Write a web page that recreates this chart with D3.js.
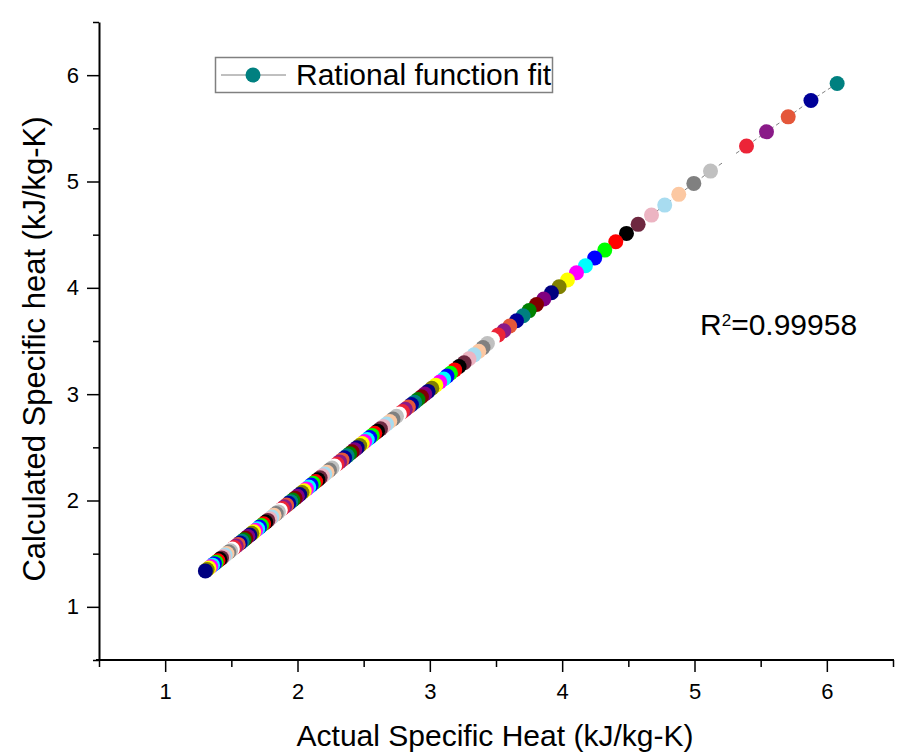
<!DOCTYPE html>
<html>
<head>
<meta charset="utf-8">
<script src="https://cdn.jsdelivr.net/npm/d3@7"></script>
<style>
  html, body { margin: 0; padding: 0; background: #ffffff; }
  svg { display: block; }
  text { font-family: "Liberation Sans", Arial, Helvetica, sans-serif; fill: #000; }
</style>
</head>
<body>
<svg id="chart" width="902" height="755"></svg>
<script>
// ---- Data, index 0 = highest point ----
const actualHeat = [
  6.078, 5.880, 5.708, 5.544, 5.393, 5.257, 5.121, 4.995, 4.881, 4.775,
  4.675, 4.574, 4.486, 4.405, 4.322, 4.246, 4.176, 4.108, 4.040, 3.977,
  3.919, 3.861, 3.806, 3.750, 3.705, 3.655, 3.604, 3.559, 3.516, 3.473,
  3.435, 3.402, 3.370, 3.334, 3.296, 3.259, 3.221, 3.188, 3.156, 3.130,
  3.105, 3.075, 3.045, 3.015, 2.987, 2.962, 2.937, 2.910, 2.885, 2.861,
  2.838, 2.815, 2.793, 2.770, 2.748, 2.722, 2.697, 2.673, 2.650, 2.627,
  2.605, 2.584, 2.565, 2.546, 2.527, 2.508, 2.489, 2.470, 2.451, 2.432,
  2.413, 2.394, 2.375, 2.356, 2.337, 2.318, 2.299, 2.280, 2.261, 2.242,
  2.223, 2.206, 2.189, 2.171, 2.154, 2.137, 2.120, 2.103, 2.085, 2.068,
  2.051, 2.034, 2.017, 1.999, 1.982, 1.965, 1.949, 1.934, 1.918, 1.902,
  1.886, 1.870, 1.855, 1.839, 1.823, 1.807, 1.791, 1.776, 1.760, 1.744,
  1.728, 1.713, 1.699, 1.684, 1.669, 1.655, 1.640, 1.625, 1.610, 1.596,
  1.581, 1.566, 1.552, 1.537, 1.522, 1.508, 1.494, 1.481, 1.467, 1.453,
  1.440, 1.426, 1.413, 1.399, 1.385, 1.372, 1.358, 1.345, 1.331, 1.317,
  1.304
];
const calculatedHeat = [
  5.922, 5.762, 5.608, 5.467, 5.333, 5.215, 5.098, 4.982, 4.879, 4.778,
  4.684, 4.597, 4.512, 4.433, 4.355, 4.281, 4.208, 4.142, 4.073, 4.010,
  3.954, 3.895, 3.843, 3.786, 3.738, 3.690, 3.641, 3.597, 3.556, 3.514,
  3.476, 3.438, 3.404, 3.370, 3.333, 3.296, 3.260, 3.228, 3.197, 3.170,
  3.143, 3.114, 3.085, 3.055, 3.026, 3.001, 2.976, 2.950, 2.925, 2.902,
  2.879, 2.857, 2.836, 2.813, 2.792, 2.767, 2.743, 2.719, 2.697, 2.674,
  2.652, 2.632, 2.612, 2.593, 2.574, 2.555, 2.536, 2.517, 2.497, 2.478,
  2.459, 2.440, 2.420, 2.401, 2.382, 2.363, 2.343, 2.324, 2.305, 2.286,
  2.266, 2.249, 2.232, 2.214, 2.196, 2.179, 2.162, 2.145, 2.126, 2.109,
  2.092, 2.075, 2.057, 2.039, 2.022, 2.005, 1.989, 1.973, 1.957, 1.941,
  1.925, 1.909, 1.893, 1.877, 1.861, 1.845, 1.829, 1.813, 1.797, 1.781,
  1.765, 1.750, 1.735, 1.720, 1.705, 1.691, 1.676, 1.661, 1.645, 1.631,
  1.616, 1.601, 1.587, 1.572, 1.557, 1.543, 1.528, 1.515, 1.501, 1.487,
  1.474, 1.460, 1.447, 1.433, 1.419, 1.406, 1.392, 1.379, 1.365, 1.351,
  1.338
];
// Origin-style colour cycle (index of first point = 12)
const pointColors = [
  "#000000", "#ff0000", "#00ff00", "#0000ff", "#00ffff", "#ff00ff",
  "#ffff00", "#808000", "#000080", "#800080", "#800000", "#008000",
  "#008080", "#000098", "#e4573a", "#8a1a88", "#ec2437", "#ffffff",
  "#c0c0c0", "#808080", "#fcc8a2", "#a8dcf0", "#ecb4c2", "#6e2840"
];
const colorStart = 12;
const xTicks = [1, 2, 3, 4, 5, 6];
const yTicks = [1, 2, 3, 4, 5, 6];
const minorTicks = [0.5, 1.5, 2.5, 3.5, 4.5, 5.5, 6.5];
const xTitle = "Actual Specific Heat (kJ/kg-K)";
const yTitle = "Calculated Specific heat (kJ/kg-K)";
const legendLabel = "Rational function fit";
const r2Label = "0.99958";

// ---- Chart ----
const svg = d3.select("#chart");
const x = d3.scaleLinear().domain([0.5, 6.5]).range([99, 893]);
const y = d3.scaleLinear().domain([0.5, 6.5]).range([660, 22]);

const data = actualHeat.map((a, i) => ({ a, c: calculatedHeat[i], i }));

// dashed connecting line
svg.append("path")
  .datum(data)
  .attr("fill", "none")
  .attr("stroke", "#808080")
  .attr("stroke-width", 1)
  .attr("stroke-dasharray", "4,3")
  .attr("d", d3.line().x(d => x(d.a)).y(d => y(d.c)));

// points
svg.append("g").selectAll("circle")
  .data(data)
  .join("circle")
  .attr("cx", d => x(d.a))
  .attr("cy", d => y(d.c))
  .attr("r", 7.5)
  .attr("fill", d => pointColors[(colorStart + d.i) % pointColors.length]);

// axes
function styleAxis(g) {
  g.select(".domain").attr("stroke", "#000").attr("stroke-width", 2);
  g.selectAll(".tick line").attr("stroke", "#000").attr("stroke-width", 1.5);
  g.selectAll(".tick text")
    .attr("font-size", 22)
    .attr("font-family", '"Liberation Sans", Arial, sans-serif')
    .attr("fill", "#000");
}

const xAxisG = svg.append("g").attr("transform", "translate(0,660)")
  .call(d3.axisBottom(x).tickValues(xTicks).tickFormat(d3.format("d"))
    .tickSize(12).tickSizeOuter(0).tickPadding(11));
styleAxis(xAxisG);
xAxisG.select(".domain").attr("d", `M${x(0.5) - 3},0H${x(6.5) + 1}`);
svg.append("g").attr("transform", "translate(0,660)")
  .call(d3.axisBottom(x).tickValues(minorTicks).tickFormat("").tickSize(7).tickSizeOuter(0))
  .call(g => g.select(".domain").remove())
  .call(g => g.selectAll(".tick line").attr("stroke", "#000").attr("stroke-width", 1.5));

const yAxisG = svg.append("g").attr("transform", "translate(99,0)")
  .call(d3.axisLeft(y).tickValues(yTicks).tickFormat(d3.format("d"))
    .tickSize(12).tickSizeOuter(0).tickPadding(8));
styleAxis(yAxisG);
svg.append("g").attr("transform", "translate(99,0)")
  .call(d3.axisLeft(y).tickValues(minorTicks).tickFormat("").tickSize(6).tickSizeOuter(0))
  .call(g => g.select(".domain").remove())
  .call(g => g.selectAll(".tick line").attr("stroke", "#000").attr("stroke-width", 1.5));

// axis titles
svg.append("text")
  .attr("x", 495).attr("y", 746)
  .attr("text-anchor", "middle")
  .attr("font-size", 30)
  .text(xTitle);

svg.append("text")
  .attr("transform", "translate(45,349) rotate(-90)")
  .attr("text-anchor", "middle")
  .attr("font-size", 31)
  .text(yTitle);

// legend
const leg = svg.append("g");
leg.append("rect")
  .attr("x", 215.5).attr("y", 57.5).attr("width", 337).attr("height", 35)
  .attr("fill", "#fff").attr("stroke", "#808080").attr("stroke-width", 1.5);
leg.append("line")
  .attr("x1", 221).attr("x2", 286).attr("y1", 75).attr("y2", 75)
  .attr("stroke", "#808080").attr("stroke-width", 1);
leg.append("circle")
  .attr("cx", 253).attr("cy", 75).attr("r", 7.5).attr("fill", pointColors[colorStart]);
leg.append("text")
  .attr("x", 296).attr("y", 85)
  .attr("font-size", 30)
  .text(legendLabel);

// R^2 annotation
const r2 = svg.append("text").attr("x", 700).attr("y", 335).attr("font-size", 30);
r2.append("tspan").text("R");
r2.append("tspan").attr("dy", -9).attr("font-size", 17).text("2");
r2.append("tspan").attr("dy", 9).text("=" + r2Label);
</script>
</body>
</html>
